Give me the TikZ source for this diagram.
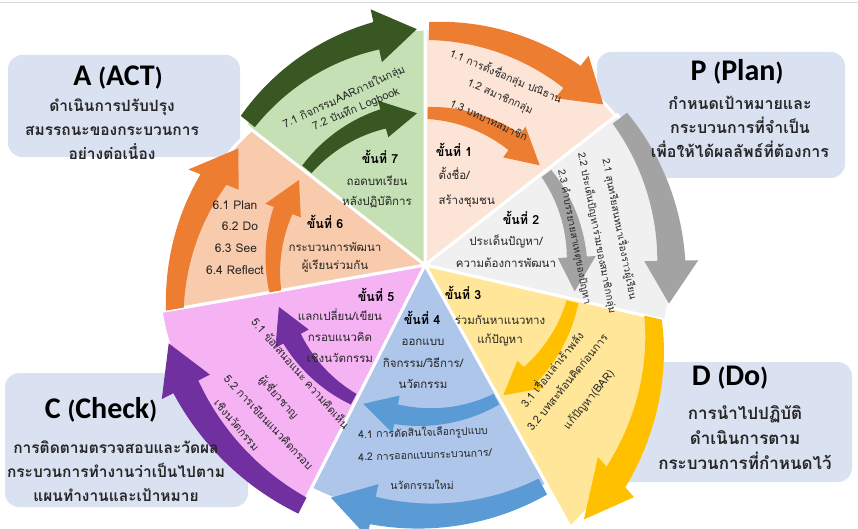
\documentclass[tikz,border=0pt]{standalone}
\usepackage{fontspec}
\setmainfont{Loma}[Script=Thai]
\newfontfamily\titlefont{Carlito}
\usetikzlibrary{calc}

\definecolor{boxfill}{HTML}{DAE2F2}
\definecolor{secone}{HTML}{FCE4D6}
\definecolor{sectwo}{HTML}{F0F0F0}
\definecolor{secthree}{HTML}{FFE699}
\definecolor{secfour}{HTML}{ADC6E9}
\definecolor{secfive}{HTML}{F5B3F4}
\definecolor{secsix}{HTML}{F8CBAD}
\definecolor{secseven}{HTML}{C5E0B4}
\definecolor{arrorange}{HTML}{ED7D31}
\definecolor{arrgray}{HTML}{A3A3A3}
\definecolor{arrgold}{HTML}{FFC000}
\definecolor{arrblue}{HTML}{5B9BD5}
\definecolor{arrpurple}{HTML}{7030A0}
\definecolor{arrgreen}{HTML}{385723}

% curved arrow: colour, radius at tail, radius at tip, from, to,
% tail half width, band half width, head half width, head length (deg)
\newcommand{\arcarrow}[9]{%
  \pgfmathsetmacro{\hb}{#5+#9}%
  \pgfmathsetmacro{\rh}{#2+(#3-#2)*(#4-(\hb))/(#4-(#5))}%
  \fill[#1] plot[domain=#4:\hb, samples=30]
      (\x:{#2+(#3-#2)*(#4-(\x))/(#4-(#5))+#6+(#7-#6)*(#4-(\x))/(#4-(\hb))})
    -- (\hb:{\rh+#8}) -- (#5:#3) -- (\hb:{\rh-#8})
    -- plot[domain=\hb:#4, samples=30]
      (\x:{#2+(#3-#2)*(#4-(\x))/(#4-(#5))-#6-(#7-#6)*(#4-(\x))/(#4-(\hb))}) -- cycle;}

\begin{document}
\begin{tikzpicture}[x=1pt,y=1pt,
  box/.style={fill=boxfill, rounded corners=14pt},
  boxtitle/.style={font=\titlefont\bfseries\fontsize{30}{30}\selectfont, text=black},
  boxtext/.style={font=\bfseries\fontsize{15.5}{24}\selectfont, text=black!85, align=center},
  stephead/.style={font=\bfseries\fontsize{12.5}{14}\selectfont, text=black},
  steptext/.style={font=\fontsize{11.5}{22}\selectfont, text=black!85, align=center},
  subtext/.style={font=\fontsize{11}{12}\selectfont, text=black!85},
  sector/.style={draw=white, line width=3pt}]
\useasboundingbox (0,0) rectangle (858,528);
\draw[black!15] (0,526) -- (858,526);

% PDCA boxes
\path[box] (8,371) rectangle (240,473);
\path[box] (597,350) rectangle (845,476);
\path[box] (607,46) rectangle (852,166);
\path[box] (5,21) rectangle (248,155);

% wheel
\begin{scope}[shift={(425,263)}]
\foreach \col/\a/\b/\ri/\ro in {secone/90/38/236/242, sectwo/38/-13/244/247, secthree/-13/-61/236/300,
    secfour/-61/-117/251/251, secfive/-117/-170/270/268, secsix/-170/-218/254/220, secseven/142/90/228/236}
  \fill[\col, sector] (0,0) -- plot[domain=\a:\b, samples=30] (\x:{\ri+(\ro-\ri)*(\a-(\x))/(\a-(\b))}) -- cycle;
\foreach \col/\a/\b in {arrorange/89/41, arrgray/37/-10, arrgold/-14/-59, arrblue/-62/-114,
    arrpurple/-118/-164, arrorange/190/146, arrgreen/141/93}
  \arcarrow{\col}{152}{152}{\a}{\b}{6}{10}{19}{13};
\foreach \col/\ri/\ro/\a/\b in {arrorange/234/240/89/42, arrgray/244/247/37/-9, arrgold/234/300/-13/-58,
    arrblue/251/251/-62/-112, arrpurple/270/268/-117/-163, arrorange/254/220/190/148, arrgreen/228/236/141/92}
  \arcarrow{\col}{\ri}{\ro}{\a}{\b}{9}{14}{27}{10};
\end{scope}

% box texts
\node[boxtitle] (acttitle) at (118,450) {A {\fontsize{25}{25}\selectfont(}ACT{\fontsize{25}{25}\selectfont)}};
\node[boxtext] (acttext) at (112,399) {ดำเนินการปรับปรุง\\สมรรถนะของกระบวนการ\\อย่างต่อเนื่อง};
\node[boxtitle] (plantitle) at (737,456) {P {\fontsize{25}{25}\selectfont(}Plan{\fontsize{25}{25}\selectfont)}};
\node[boxtext, font=\bfseries\fontsize{16}{24}\selectfont] (plantext) at (740,401) {กำหนดเป้าหมายและ\\กระบวนการที่จำเป็น\\เพื่อให้ได้ผลลัพธ์ที่ต้องการ};
\node[boxtitle] (dotitle) at (730,150) {D {\fontsize{25}{25}\selectfont(}Do{\fontsize{25}{25}\selectfont)}};
\node[boxtext, font=\bfseries\fontsize{17}{25}\selectfont] (dotext) at (745,90) {การนำไปปฏิบัติ\\ดำเนินการตาม\\กระบวนการที่กำหนดไว้};
\node[boxtitle] (checktitle) at (101,118) {C {\fontsize{25}{25}\selectfont(}Check{\fontsize{25}{25}\selectfont)}};
\node[boxtext] (checktext) at (116,57) {การติดตามตรวจสอบและวัดผล\\กระบวนการทำงานว่าเป็นไปตาม\\แผนทำงานและเป้าหมาย};

% steps
\node[stephead] (s1head) at (454,378) {ขั้นที่ 1};
\node[steptext, align=left, anchor=west, font=\fontsize{11.5}{25}\selectfont] (s1text) at (435,341) {ตั้งชื่อ/\\สร้างชุมชน};
\node[stephead] (s2head) at (521,310) {ขั้นที่ 2};
\node[steptext] (s2text) at (506,277) {ประเด็นปัญหา/\\ความต้องการพัฒนา};
\node[stephead] (s3head) at (463,235) {ขั้นที่ 3};
\node[steptext, font=\fontsize{11.5}{19}\selectfont] (s3text) at (500,197) {ร่วมกันหาแนวทาง\\แก้ปัญหา};
\node[stephead] (s4head) at (422,210) {ขั้นที่ 4};
\node[steptext, font=\fontsize{11.5}{21.5}\selectfont] (s4text) at (423,164) {ออกแบบ\\กิจกรรม/วิธีการ/\\นวัตกรรม};
\node[stephead] (s5head) at (376,233) {ขั้นที่ 5};
\node[steptext, font=\fontsize{11.5}{21}\selectfont] (s5text) at (340,192) {แลกเปลี่ยน/เขียน\\กรอบแนวคิด\\เชิงนวัตกรรม};
\node[stephead] (s6head) at (325,306) {ขั้นที่ 6};
\node[steptext, font=\fontsize{11.5}{18}\selectfont] (s6text) at (335,271) {กระบวนการพัฒนา\\ผู้เรียนร่วมกัน};
\node[stephead] (s7head) at (380,371) {ขั้นที่ 7};
\node[steptext, font=\fontsize{11.5}{20}\selectfont] (s7text) at (377,336) {ถอดบทเรียน\\หลังปฏิบัติการ};

% sub items
\node[subtext, font=\fontsize{10.5}{12}\selectfont, rotate=-23] (s1suba) at (506,452) {1.1 การตั้งชื่อกลุ่ม ปณิธาน};
\node[subtext, font=\fontsize{10.5}{12}\selectfont, rotate=-24] (s1subb) at (500,431) {1.2 สมาชิกกลุ่ม};
\node[subtext, font=\fontsize{10.5}{12}\selectfont, rotate=-25] (s1subc) at (489,408) {1.3 บทบาทสมาชิก};
\node[subtext, font=\fontsize{10}{12}\selectfont, rotate=-79] (s2suba) at (620,299) {2.1 สุนทรียสนทนาเรื่องราวผู้เรียน};
\node[subtext, font=\fontsize{10}{12}\selectfont, rotate=-79] (s2subb) at (597,295) {2.2 ประเด็นปัญหาร่วมของสมาชิกกลุ่ม};
\node[subtext, font=\fontsize{10}{12}\selectfont, rotate=-79] (s2subc) at (574,291) {2.3 คำบรรยายสาเหตุของปัญหา};
\node[subtext, rotate=51] (s3suba) at (551,159) {3.1 เรื่องเล่าเร้าพลัง};
\node[subtext, rotate=51] (s3subb) at (567,146) {3.2 บทสะท้อนคิดก่อนการ};
\node[subtext, rotate=51] (s3subc) at (589,128) {แก้ปัญหา(BAR)};
\node[subtext, font=\fontsize{10.5}{12}\selectfont, rotate=2] (s4suba) at (423,95) {4.1 การตัดสินใจเลือกรูปแบบ};
\node[subtext, font=\fontsize{10.5}{12}\selectfont, rotate=2] (s4subb) at (425,73) {4.2 การออกแบบกระบวนการ/};
\node[subtext, font=\fontsize{10.5}{12}\selectfont] (s4subc) at (422,43) {นวัตกรรมใหม่};
\node[subtext, rotate=-49] (s5suba) at (301,155) {5.1 ข้อเสนอแนะ ความคิดเห็น};
\node[subtext, rotate=-48] (s5subb) at (279,131) {ผู้เชี่ยวชาญ};
\node[subtext, rotate=-47] (s5subc) at (269,106) {5.2 การเขียนแนวคิดกรอบ};
\node[subtext, rotate=-50] (s5subd) at (237,103) {เชิงนวัตกรรม};
\node[subtext, font=\fontsize{12}{12}\selectfont] (s6suba) at (235,323) {6.1 Plan};
\node[subtext, font=\fontsize{12}{12}\selectfont] (s6subb) at (240,302) {6.2 Do};
\node[subtext, font=\fontsize{12}{12}\selectfont] (s6subc) at (236,280) {6.3 See};
\node[subtext, font=\fontsize{12}{12}\selectfont] (s6subd) at (235,258) {6.4 Reflect};
\node[subtext, rotate=25] (s7suba) at (344,431) {7.1 กิจกรรมAARภายในกลุ่ม};
\node[subtext, rotate=23] (s7subb) at (356,419) {7.2 บันทึก Logbook};
\end{tikzpicture}
\end{document}
